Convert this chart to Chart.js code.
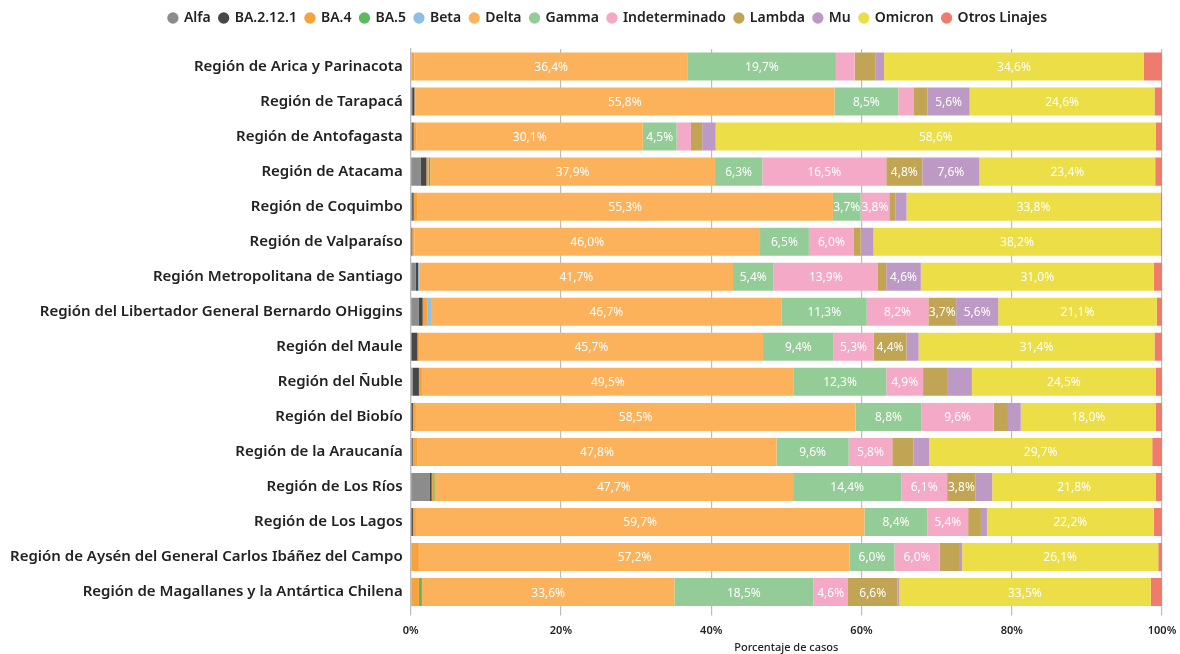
<!DOCTYPE html>
<html>
<head>
<meta charset="utf-8">
<script src="https://cdn.jsdelivr.net/npm/chart.js@4/dist/chart.umd.min.js"></script>
<style>
html,body{margin:0;padding:0;background:#fff;}
#wrap{width:1180px;height:654px;position:relative;}
</style>
</head>
<body>
<div id="wrap"><canvas id="c" width="1180" height="654"></canvas></div>
<script>
const categories = [
  "Región de Arica y Parinacota",
  "Región de Tarapacá",
  "Región de Antofagasta",
  "Región de Atacama",
  "Región de Coquimbo",
  "Región de Valparaíso",
  "Región Metropolitana de Santiago",
  "Región del Libertador General Bernardo OHiggins",
  "Región del Maule",
  "Región del Ñuble",
  "Región del Biobío",
  "Región de la Araucanía",
  "Región de Los Ríos",
  "Región de Los Lagos",
  "Región de Aysén del General Carlos Ibáñez del Campo",
  "Región de Magallanes y la Antártica Chilena"
];
const alfa      = [0, 0.2, 0.2, 1.3, 0.2, 0.1, 0.7, 1.1, 0.1, 0.3, 0.1, 0.2, 2.5, 0.1, 0, 0];
const ba2121    = [0, 0.3, 0.2, 0.8, 0.2, 0.1, 0.3, 0.5, 0.8, 0.8, 0.2, 0.1, 0.3, 0.2, 0, 0];
const ba4       = [0.5, 0.1, 0.4, 0.3, 0.5, 0.3, 0, 0.6, 0.3, 0.4, 0.4, 0.6, 0.2, 0.4, 1.1, 1.1];
const ba5       = [0, 0, 0, 0.2, 0, 0, 0, 0, 0, 0, 0, 0, 0.2, 0, 0, 0.4];
const beta      = [0, 0, 0, 0, 0, 0, 0.2, 0.5, 0, 0, 0, 0, 0, 0, 0.1, 0];
const delta     = [36.4, 55.8, 30.1, 37.9, 55.3, 46.0, 41.7, 46.7, 45.7, 49.5, 58.5, 47.8, 47.7, 59.7, 57.2, 33.6];
const gamma     = [19.7, 8.5, 4.5, 6.3, 3.7, 6.5, 5.4, 11.3, 9.4, 12.3, 8.8, 9.6, 14.4, 8.4, 6.0, 18.5];
const indet     = [2.5, 2.0, 1.9, 16.5, 3.8, 6.0, 13.9, 8.2, 5.3, 4.9, 9.6, 5.8, 6.1, 5.4, 6.0, 4.6];
const lambda    = [2.8, 1.9, 1.5, 4.8, 0.8, 0.9, 1.1, 3.7, 4.4, 3.3, 1.9, 2.8, 3.8, 1.7, 2.7, 6.6];
const mu        = [1.1, 5.6, 1.8, 7.6, 1.5, 1.7, 4.6, 5.6, 1.6, 3.2, 1.7, 2.1, 2.2, 0.8, 0.3, 0.2];
const omicron   = [34.6, 24.6, 58.6, 23.4, 33.8, 38.2, 31.0, 21.1, 31.4, 24.5, 18.0, 29.7, 21.8, 22.2, 26.1, 33.5];
const otros     = [2.4, 1.0, 0.8, 0.9, 0.2, 0.2, 1.1, 0.7, 1.0, 0.8, 0.8, 1.3, 0.8, 1.1, 0.5, 1.5];
const xTicks    = [0, 20, 40, 60, 80, 100];

const seriesNames  = ["Alfa","BA.2.12.1","BA.4","BA.5","Beta","Delta","Gamma","Indeterminado","Lambda","Mu","Omicron","Otros Linajes"];
const seriesValues = [alfa, ba2121, ba4, ba5, beta, delta, gamma, indet, lambda, mu, omicron, otros];
const seriesColors = ["#8c8c8c","#474747","#f9a23c","#5cba5c","#8ebfe6","#fbb25b","#93cc97","#f4a9c7","#c1a555","#bd9ac6","#ecde47","#ef7b6c"];

const FONT = "'Noto Sans', 'Open Sans', sans-serif";

const labelPlugin = {
  id: 'barLabels',
  afterDatasetsDraw(chart) {
    const ctx = chart.ctx;
    ctx.save();
    ctx.font = "12px " + FONT;
    ctx.fillStyle = "#ffffff";
    ctx.textAlign = "center";
    ctx.textBaseline = "middle";
    chart.data.datasets.forEach((ds, di) => {
      const meta = chart.getDatasetMeta(di);
      if (meta.hidden) return;
      meta.data.forEach((el, i) => {
        const v = ds.data[i];
        if (v >= 3.5) {
          const p = el.getProps(['x','base','y'], true);
          ctx.fillText(v.toFixed(1).replace('.', ',') + '%', (p.x + p.base) / 2, p.y + 1);
        }
      });
    });
    ctx.restore();
  }
};

const legendSpacer = {
  id: 'legendSpacer',
  beforeInit(chart) {
    const orig = chart.legend.fit;
    chart.legend.fit = function () {
      orig.bind(chart.legend)();
      this.height += 15;
    };
  },
  afterLayout(chart) {
    chart.legend.left += 26;
    chart.legend.right += 26;
    chart.legend.top += 1;
  }
};

new Chart(document.getElementById('c'), {
  type: 'bar',
  data: {
    labels: categories,
    datasets: seriesNames.map((n, i) => ({
      label: n,
      data: seriesValues[i],
      backgroundColor: seriesColors[i],
      borderWidth: 0,
      barPercentage: 1.0,
      categoryPercentage: 0.8
    }))
  },
  options: {
    indexAxis: 'y',
    responsive: false,
    animation: false,
    layout: { padding: { left: 2, right: 18, top: 1, bottom: 0 } },
    plugins: {
      tooltip: { enabled: false },
      legend: {
        position: 'top',
        labels: {
          usePointStyle: true,
          pointStyle: 'circle',
          boxWidth: 8,
          boxHeight: 8,
          padding: 9,
          color: '#222',
          font: { family: FONT, size: 14, weight: '600' }
        }
      }
    },
    scales: {
      x: {
        stacked: true,
        min: 0,
        max: 100,
        afterBuildTicks: (s) => { s.ticks = xTicks.map(v => ({ value: v })); },
        afterFit: (s) => { s.paddingRight = 0; s.paddingLeft = 0; },
        ticks: {
          color: '#222',
          padding: 9,
          font: { family: FONT, size: 11, weight: '600' },
          callback: (v) => v + '%'
        },
        grid: { color: '#bdbdbd', lineWidth: 1.2, tickLength: 6 },
        border: { display: false },
        title: {
          display: true,
          text: 'Porcentaje de casos',
          color: '#222',
          font: { family: FONT, size: 11, weight: '500' },
          padding: { top: -6, bottom: 0 }
        }
      },
      y: {
        stacked: true,
        ticks: {
          color: '#222',
          padding: 8,
          font: { family: FONT, size: 15, weight: '600' }
        },
        grid: { display: false, drawTicks: false },
        border: { display: true, color: '#bdbdbd', width: 1.2 }
      }
    }
  },
  plugins: [labelPlugin, legendSpacer]
});
</script>
</body>
</html>
